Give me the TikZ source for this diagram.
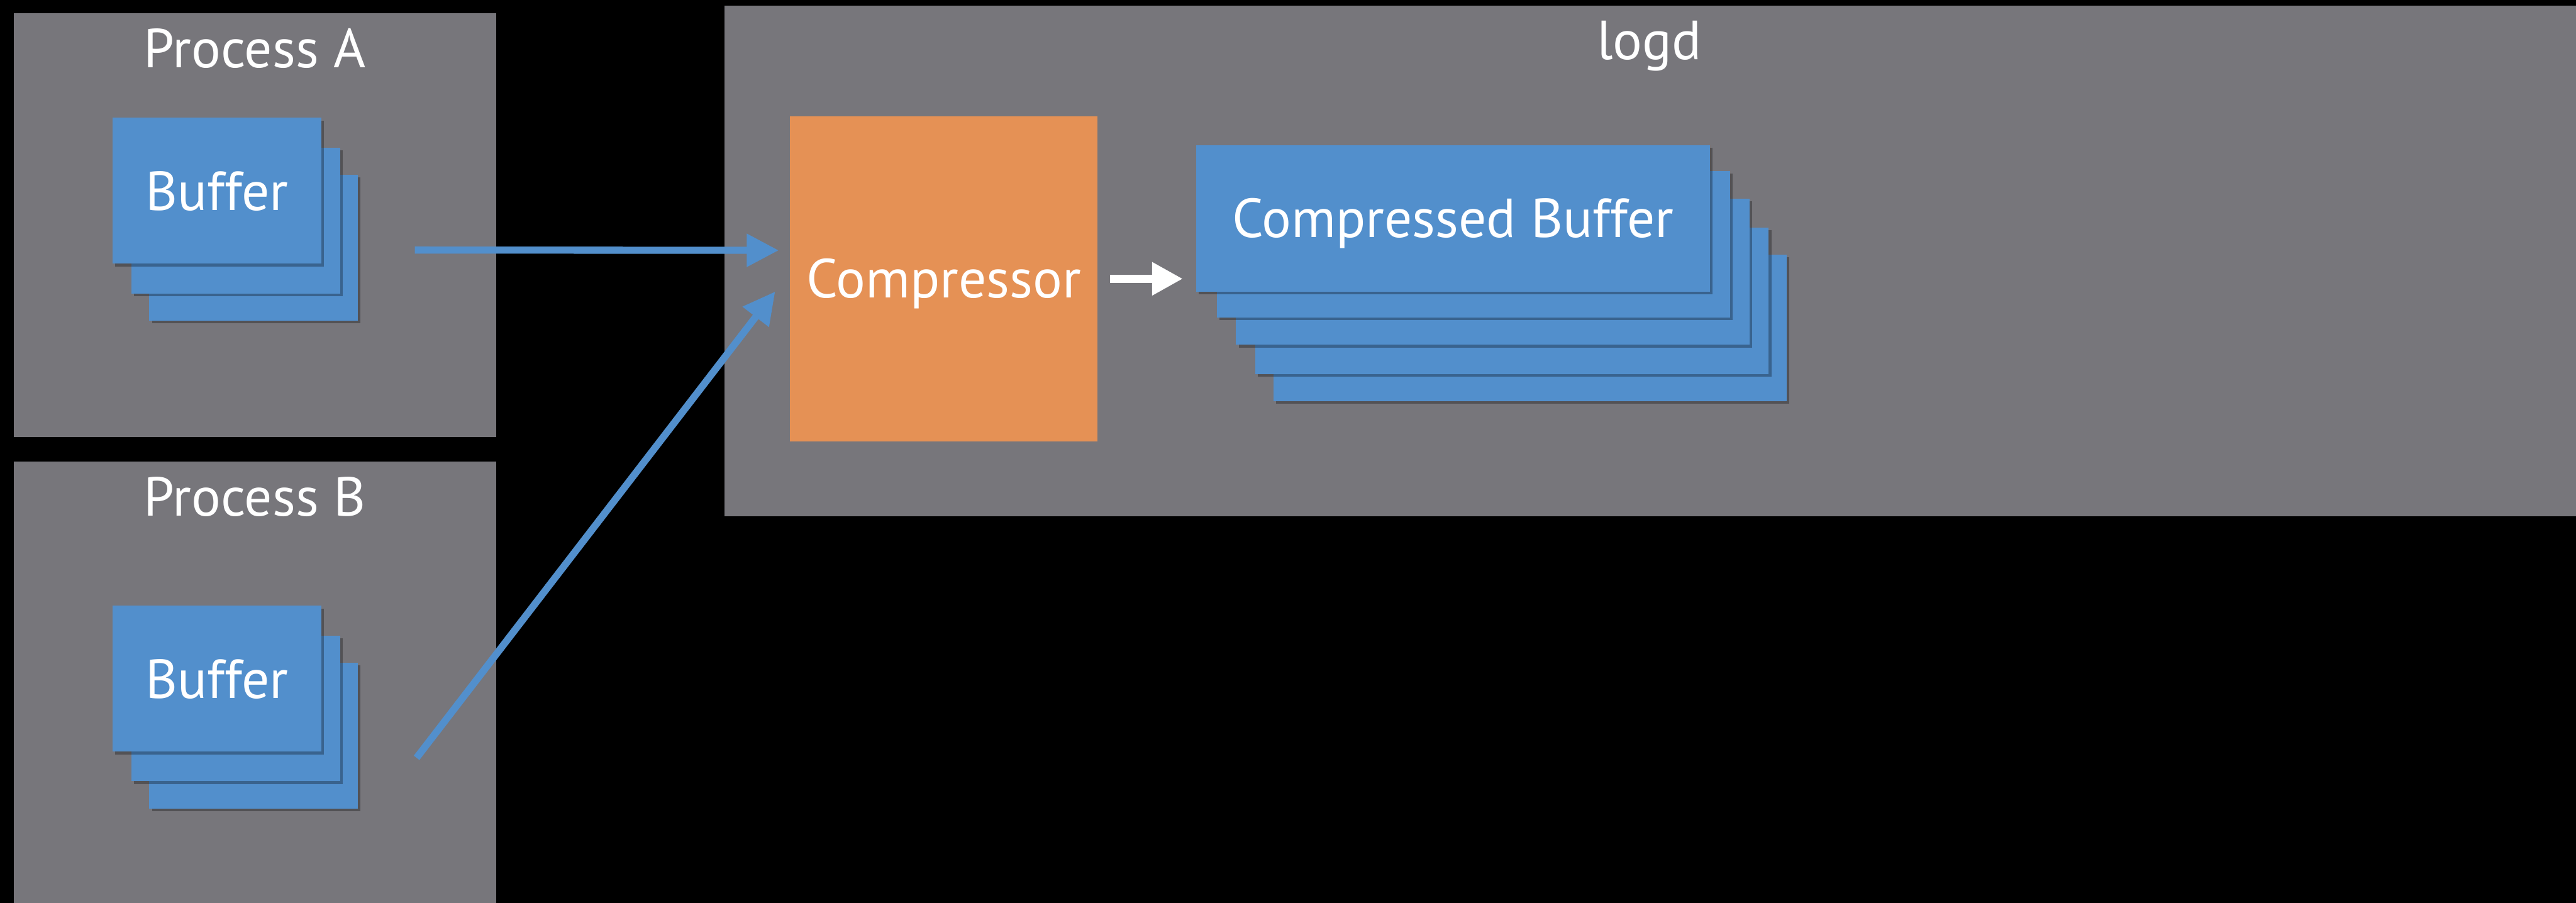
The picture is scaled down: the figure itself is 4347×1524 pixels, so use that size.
\documentclass[tikz,border=0pt]{standalone}
\usepackage{fontspec}
\setmainfont{PT Sans}
\usetikzlibrary{arrows.meta,shadows,calc}
\definecolor{procgray}{RGB}{119,118,123}
\definecolor{bufblue}{RGB}{82,143,204}
\definecolor{comporange}{RGB}{229,145,85}
\begin{document}
\begin{tikzpicture}[x=0.01cm,y=-0.01cm,
  region/.style={fill=procgray, draw=none, inner sep=0},
  titletext/.style={text=white, font=\fontsize{26.4}{30}\selectfont, anchor=base, inner sep=0},
  labeltext/.style={text=white, font=\fontsize{26.4}{30}\selectfont, text height=0.65cm, text depth=0pt, inner sep=0},
  bufbox/.style={labeltext, fill=bufblue, draw=none, minimum width=3.52cm, minimum height=2.46cm,
    drop shadow={shadow xshift=0.045cm, shadow yshift=-0.045cm, opacity=0.3, fill=black}},
  cbufbox/.style={labeltext, fill=bufblue, draw=none, minimum width=8.66cm, minimum height=2.47cm,
    drop shadow={shadow xshift=0.045cm, shadow yshift=-0.045cm, opacity=0.3, fill=black}},
  compbox/.style={labeltext, fill=comporange, draw=none, minimum width=5.19cm, minimum height=5.49cm},
  barrow/.style={draw=bufblue, line width=0.12cm, -{Triangle[length=0.54cm,width=0.53cm]}},
  warrow/.style={draw=white, line width=0.145cm, -{Triangle[length=0.52cm,width=0.53cm]}}
]
\fill[black] (0,0) rectangle (4347,1524);
\useasboundingbox (0,0) rectangle (4347,1524);

% regions
\node[region, minimum width=8.13cm, minimum height=7.15cm] (procA) at (430.5,379.5) {};
\node[region, minimum width=8.13cm, minimum height=7.45cm] (procB) at (430.5,1151.5) {};
\node[region, minimum width=31.23cm, minimum height=8.61cm] (logd) at (2785.5,440.5) {};

\node[titletext] (tA) at (430,114) {Process A};
\node[titletext] (tB) at (430,871) {Process B};
\node[titletext] (tL) at (2783,100) {logd};

% buffers A
\node[bufbox] (a3) at (428,418) {};
\node[bufbox] (a2) at (398,372.5) {};
\node[bufbox] (a1) at (366,322) {Buffer};
% buffers B
\node[bufbox] (b3) at (428,1241.5) {};
\node[bufbox] (b2) at (398,1195.5) {};
\node[bufbox] (b1) at (366,1145.5) {Buffer};

% compressor
\node[compbox] (comp) at (1592.5,470.5) {Compressor};

% compressed buffers
\node[cbufbox] (c5) at (2582,553.5) {};
\node[cbufbox] (c4) at (2551.5,507.5) {};
\node[cbufbox] (c3) at (2519,458.5) {};
\node[cbufbox] (c2) at (2486.5,412.5) {};
\node[cbufbox] (c1) at (2452,368.5) {Compressed Buffer};

% arrows
\coordinate (aStart) at (700,422);
\coordinate (bStart) at (703,1279);
\draw[barrow] (aStart) -- ($(comp.west)+(-18,-48)$);
\draw[barrow] (bStart) -- ($(comp.west)+(-24,21.5)$);
\draw[warrow, shorten <=0.2cm, shorten >=0.22cm] (comp.east) -- (comp.east -| c1.west);
\end{tikzpicture}
\end{document}
